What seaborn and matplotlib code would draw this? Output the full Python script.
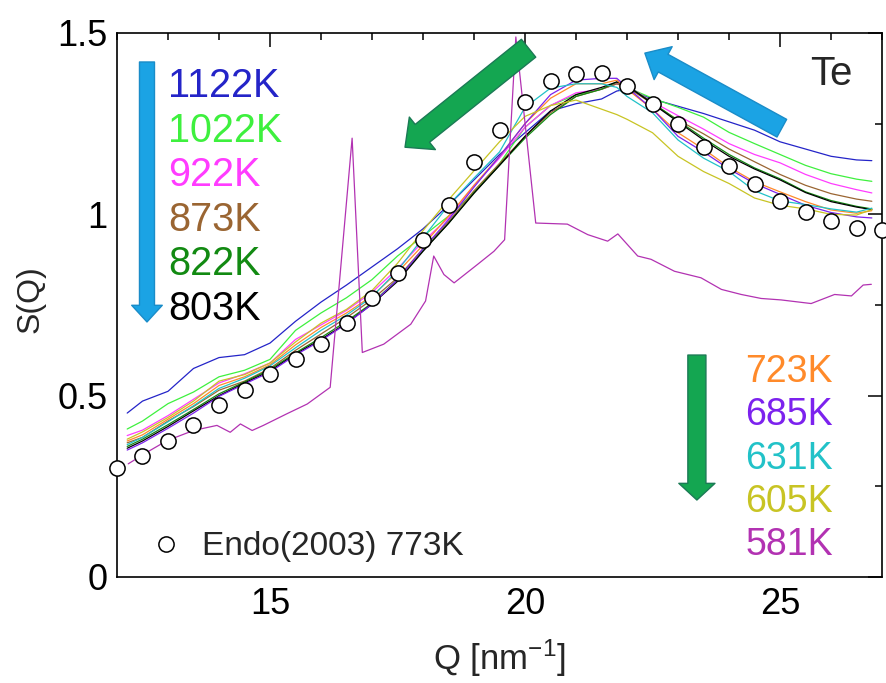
import numpy as np
import pandas as pd
import matplotlib
matplotlib.use('Agg')
import matplotlib.pyplot as plt
import seaborn as sns

# Q grid shared by the liquid-state curves [nm^-1]
q = [12.2, 12.5, 13.0, 13.5, 14.0, 14.5, 15.0, 15.5, 16.0, 16.5, 17.0, 17.5,
     18.0, 18.5, 19.0, 19.5, 20.0, 20.5, 21.0, 21.5, 21.8, 22.0, 22.5, 23.0,
     23.5, 24.0, 24.5, 25.0, 25.5, 26.0, 26.5, 26.8]

s_1122 = [0.452, 0.485, 0.512, 0.575, 0.605, 0.613, 0.645, 0.705, 0.758, 0.805, 0.855, 0.905,
          0.960, 1.025, 1.095, 1.165, 1.225, 1.285, 1.305, 1.318, 1.340, 1.345, 1.318, 1.298,
          1.278, 1.255, 1.232, 1.200, 1.180, 1.160, 1.150, 1.148]
s_1022 = [0.408, 0.430, 0.478, 0.510, 0.552, 0.570, 0.600, 0.680, 0.728, 0.770, 0.820, 0.885,
          0.940, 0.995, 1.060, 1.140, 1.240, 1.300, 1.330, 1.345, 1.360, 1.350, 1.320, 1.295,
          1.268, 1.226, 1.195, 1.165, 1.135, 1.112, 1.097, 1.091]
s_922 = [0.390, 0.405, 0.445, 0.490, 0.535, 0.560, 0.590, 0.655, 0.695, 0.735, 0.785, 0.850,
         0.925, 0.990, 1.080, 1.155, 1.240, 1.300, 1.335, 1.345, 1.360, 1.355, 1.310, 1.272,
         1.235, 1.195, 1.165, 1.142, 1.110, 1.085, 1.068, 1.059]
s_873 = [0.370, 0.385, 0.430, 0.470, 0.515, 0.540, 0.575, 0.625, 0.670, 0.715, 0.765, 0.825,
         0.905, 0.980, 1.065, 1.140, 1.215, 1.280, 1.325, 1.345, 1.360, 1.350, 1.305, 1.260,
         1.222, 1.180, 1.145, 1.110, 1.080, 1.057, 1.042, 1.036]
s_822 = [0.360, 0.380, 0.420, 0.462, 0.505, 0.538, 0.572, 0.618, 0.660, 0.705, 0.755, 0.820,
         0.900, 0.975, 1.060, 1.135, 1.210, 1.275, 1.325, 1.345, 1.365, 1.355, 1.308, 1.258,
         1.210, 1.165, 1.128, 1.098, 1.062, 1.038, 1.022, 1.015]
s_803 = [0.355, 0.375, 0.415, 0.458, 0.500, 0.535, 0.568, 0.615, 0.655, 0.700, 0.752, 0.815,
         0.898, 0.975, 1.058, 1.135, 1.215, 1.285, 1.330, 1.350, 1.365, 1.355, 1.305, 1.255,
         1.205, 1.160, 1.125, 1.095, 1.060, 1.035, 1.020, 1.013]
s_723 = [0.375, 0.392, 0.435, 0.478, 0.528, 0.552, 0.585, 0.640, 0.688, 0.728, 0.775, 0.840,
         0.915, 0.995, 1.080, 1.160, 1.250, 1.320, 1.360, 1.360, 1.370, 1.345, 1.290, 1.225,
         1.180, 1.130, 1.090, 1.062, 1.035, 1.012, 1.003, 1.010]
s_685 = [0.350, 0.370, 0.410, 0.452, 0.498, 0.532, 0.565, 0.612, 0.652, 0.698, 0.752, 0.820,
         0.905, 0.985, 1.075, 1.160, 1.250, 1.330, 1.370, 1.375, 1.375, 1.350, 1.290, 1.215,
         1.172, 1.125, 1.085, 1.055, 1.025, 1.005, 0.993, 0.990]
s_631 = [0.365, 0.385, 0.428, 0.472, 0.520, 0.548, 0.582, 0.632, 0.680, 0.722, 0.772, 0.845,
         0.935, 1.025, 1.100, 1.172, 1.295, 1.348, 1.360, 1.360, 1.350, 1.325, 1.280, 1.205,
         1.155, 1.118, 1.065, 1.037, 1.027, 1.015, 1.006, 1.017]
s_605 = [0.380, 0.400, 0.440, 0.485, 0.540, 0.558, 0.590, 0.648, 0.700, 0.738, 0.790, 0.865,
         0.955, 1.040, 1.120, 1.200, 1.270, 1.300, 1.315, 1.290, 1.275, 1.262, 1.225, 1.160,
         1.118, 1.085, 1.045, 1.025, 1.015, 1.000, 0.998, 1.013]

# 581K (partly crystalline, Bragg peaks)
q_581 = [12.22, 12.6, 12.98, 13.5, 13.96, 14.22, 14.42, 14.65, 14.87, 15.33, 15.73, 16.18,
         16.61, 16.81, 17.23, 17.76, 18.05, 18.21, 18.41, 18.61, 19.07, 19.39, 19.6, 19.82,
         20.21, 20.83, 21.23, 21.62, 21.82, 22.21, 22.47, 22.93, 23.45, 23.85, 24.24, 24.63,
         25.02, 25.61, 26.07, 26.4, 26.63, 26.79]
s_581 = [0.312, 0.345, 0.376, 0.404, 0.418, 0.399, 0.422, 0.404, 0.418, 0.450, 0.477, 0.523,
         1.210, 0.619, 0.642, 0.697, 0.761, 0.885, 0.834, 0.811, 0.862, 0.898, 0.930, 1.489,
         0.976, 0.973, 0.944, 0.926, 0.946, 0.885, 0.876, 0.843, 0.825, 0.793, 0.779, 0.768,
         0.764, 0.754, 0.779, 0.775, 0.805, 0.807]

# Endo (2003) 773K reference
q_endo = [12.0, 12.5, 13.0, 13.5, 14.0, 14.5, 15.0, 15.5, 16.0, 16.5, 17.0, 17.5, 18.0, 18.5,
          19.0, 19.5, 20.0, 20.5, 21.0, 21.5, 22.0, 22.5, 23.0, 23.5, 24.0, 24.5, 25.0, 25.5,
          26.0, 26.5, 27.0]
s_endo = [0.301, 0.335, 0.374, 0.420, 0.473, 0.516, 0.560, 0.602, 0.643, 0.699, 0.768, 0.839,
          0.929, 1.025, 1.143, 1.232, 1.310, 1.367, 1.388, 1.390, 1.354, 1.304, 1.249, 1.187,
          1.132, 1.084, 1.038, 1.006, 0.981, 0.962, 0.958]

temps_high = ['1122K', '1022K', '922K', '873K', '822K', '803K']
temps_low = ['723K', '685K', '631K', '605K', '581K']
colors = {'1122K': '#2424c8', '1022K': '#3ef03e', '922K': '#ff3cff', '873K': '#9a6532',
          '822K': '#128a12', '803K': '#000000', '723K': '#ff8a2a', '685K': '#7c22ee',
          '631K': '#22c2c8', '605K': '#c8c424', '581K': '#b232b2'}

curves = {'1122K': s_1122, '1022K': s_1022, '922K': s_922, '873K': s_873, '822K': s_822,
          '803K': s_803, '723K': s_723, '685K': s_685, '631K': s_631, '605K': s_605}
frames = [pd.DataFrame({'Q': q, 'S': v, 'T': k}) for k, v in curves.items()]
frames.append(pd.DataFrame({'Q': q_581, 'S': s_581, 'T': '581K'}))
df = pd.concat(frames, ignore_index=True)
endo = pd.DataFrame({'Q': q_endo, 'S': s_endo})

sns.set_style('white')
plt.rcParams['font.family'] = ['Liberation Sans', 'DejaVu Sans']
plt.rcParams['mathtext.default'] = 'regular'

fig = plt.figure(figsize=(8.87, 6.83), dpi=100)
ax = fig.add_axes([0.1319, 0.1552, 0.8625, 0.7965])

sns.lineplot(data=df, x='Q', y='S', hue='T', palette=colors, estimator=None, sort=False,
             legend=False, linewidth=0.9, ax=ax)
sns.scatterplot(data=endo, x='Q', y='S', s=120, facecolor='white', edgecolor='black',
                linewidth=1.1, zorder=5, clip_on=False, legend=False, ax=ax)

ax.set_xlim(12, 27)
ax.set_ylim(0, 1.5)
ax.set_xticks([15, 20, 25])
ax.set_xticks(np.arange(12, 28, 1), minor=True)
ax.set_yticks([0, 0.5, 1, 1.5])
ax.set_yticklabels(['0', '0.5', '1', '1.5'])
ax.set_yticks(np.arange(0, 1.51, 0.25), minor=True)
ax.tick_params(which='both', direction='in', top=True, right=True, width=1.1, colors='black')
ax.tick_params(which='major', length=10, labelsize=26, pad=7)
ax.tick_params(which='minor', length=5)
for sp in ax.spines.values():
    sp.set_linewidth(1.2)
    sp.set_color('black')

ax.set_xlabel('Q [nm$^{-1}$]', fontsize=25)
ax.set_ylabel('S(Q)', fontsize=23)
ax.xaxis.set_label_coords(0.5, -0.112)
ax.yaxis.set_label_coords(-0.093, 0.51)

# temperature labels
for i, t in enumerate(temps_high):
    ax.text(0.0667, 0.882 - i * 0.0818, t, color=colors[t], fontsize=28.5,
            transform=ax.transAxes, va='baseline', ha='left')
for i, t in enumerate(temps_low):
    ax.text(0.821, 0.359 - i * 0.0798, t, color=colors[t], fontsize=27,
            transform=ax.transAxes, va='baseline', ha='left')

ax.text(0.906, 0.904, 'Te', fontsize=29, transform=ax.transAxes, va='baseline', ha='left')

ax.scatter([0.064], [0.0607], s=120, facecolor='white', edgecolor='black', linewidth=1.1,
           transform=ax.transAxes, zorder=6)
ax.text(0.111, 0.04, 'Endo(2003) 773K', fontsize=24, transform=ax.transAxes,
        va='baseline', ha='left')

# arrows
def arrow(tail, tip, tw, hw, hl, fc, ec):
    ax.annotate('', xy=tip, xytext=tail, xycoords='axes fraction',
                textcoords='axes fraction',
                arrowprops=dict(arrowstyle=f'simple,head_length={hl},head_width={hw},tail_width={tw}',
                                mutation_scale=1, fc=fc, ec=ec, lw=1, shrinkA=0, shrinkB=0))

arrow((0.0392, 0.9467), (0.0392, 0.4688), 10.8, 22, 12, '#1ba3e4', '#1a8cc8')
arrow((0.758, 0.408), (0.758, 0.1415), 13, 26, 12, '#14a651', '#1b7a55')
arrow((0.538, 0.972), (0.3765, 0.790), 16.5, 30, 16, '#14a651', '#1b7a55')
arrow((0.869, 0.825), (0.690, 0.963), 14.5, 27, 15, '#1ba3e4', '#1a8cc8')

fig.savefig('out.png', dpi=100)
